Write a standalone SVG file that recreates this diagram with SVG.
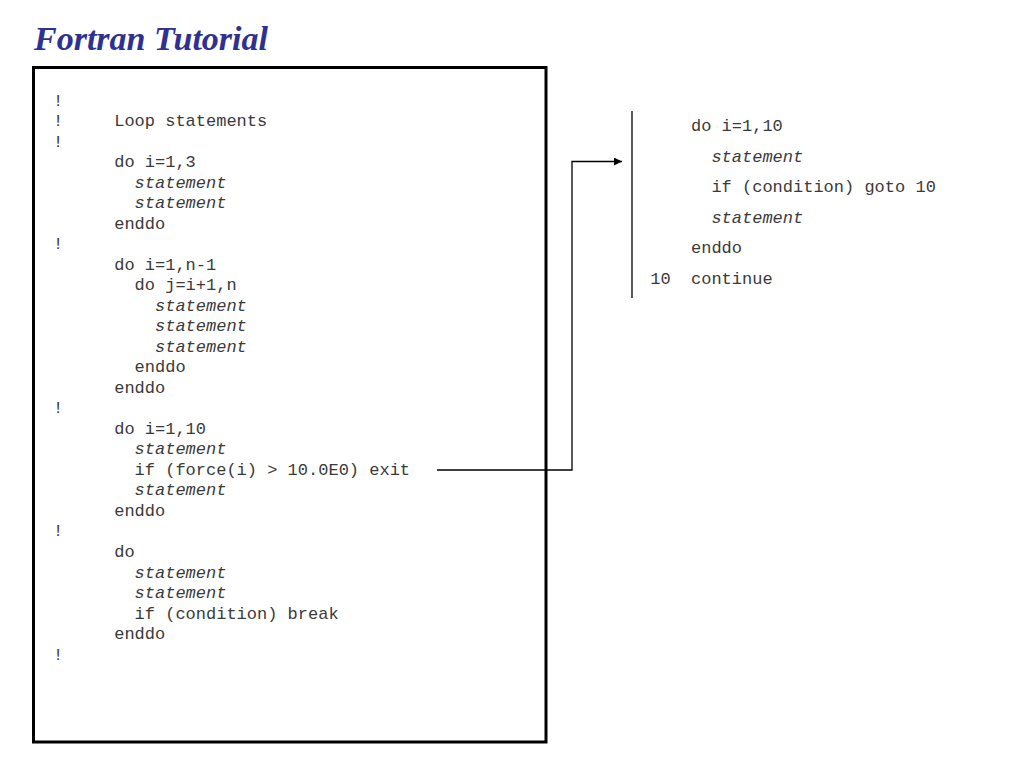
<svg xmlns="http://www.w3.org/2000/svg" width="1024" height="768" viewBox="0 0 1024 768">
<defs>
<style>
.title{font-family:"Liberation Serif","Times New Roman",serif;font-weight:bold;font-style:italic;font-size:34px;fill:#2E3192}
.code{font-family:"Liberation Mono","Courier New",monospace;font-size:17px;fill:#3a3a3a}
.it{font-style:italic}
.line{fill:none;stroke:#000;stroke-width:1.3}
</style>
<marker id="arrow" viewBox="0 0 10 10" refX="10" refY="5" markerWidth="9" markerHeight="8" markerUnits="userSpaceOnUse" orient="auto">
<path d="M0,0 L10,5 L0,10 Z" fill="#000"/>
</marker>
</defs>
<rect width="1024" height="768" fill="#fff"/>
<text class="title" x="34" y="50">Fortran Tutorial</text>

<g id="left-code-box">
<rect x="33.5" y="67.5" width="512.5" height="674.5" fill="none" stroke="#000" stroke-width="3"/>
<g class="code">
<text x="53" y="105.5">!</text>
<text x="53" y="126">!</text><text x="114.2" y="126">Loop statements</text>
<text x="53" y="146.5">!</text>
<text x="114.2" y="167.1">do i=1,3</text>
<text class="it" x="134.6" y="187.6">statement</text>
<text class="it" x="134.6" y="208.1">statement</text>
<text x="114.2" y="228.6">enddo</text>
<text x="53" y="249.1">!</text>
<text x="114.2" y="269.7">do i=1,n-1</text>
<text x="134.6" y="290.2">do j=i+1,n</text>
<text class="it" x="155" y="310.7">statement</text>
<text class="it" x="155" y="331.2">statement</text>
<text class="it" x="155" y="351.7">statement</text>
<text x="134.6" y="372.3">enddo</text>
<text x="114.2" y="392.8">enddo</text>
<text x="53" y="413.3">!</text>
<text x="114.2" y="433.8">do i=1,10</text>
<text class="it" x="134.6" y="454.3">statement</text>
<text x="134.6" y="474.9">if (force(i) &gt; 10.0E0) exit</text>
<text class="it" x="134.6" y="495.4">statement</text>
<text x="114.2" y="515.9">enddo</text>
<text x="53" y="536.4">!</text>
<text x="114.2" y="556.9">do</text>
<text class="it" x="134.6" y="577.5">statement</text>
<text class="it" x="134.6" y="598">statement</text>
<text x="134.6" y="618.5">if (condition) break</text>
<text x="114.2" y="639">enddo</text>
<text x="53" y="659.5">!</text>
</g>
</g>

<g id="right-code-block">
<line x1="632" y1="111" x2="632" y2="298" stroke="#000" stroke-width="1.3"/>
<g class="code">
<text x="691" y="131">do i=1,10</text>
<text class="it" x="711.4" y="161.6">statement</text>
<text x="711.4" y="192.2">if (condition) goto 10</text>
<text class="it" x="711.4" y="222.8">statement</text>
<text x="691" y="253.4">enddo</text>
<text x="650.2" y="284">10</text><text x="691" y="284">continue</text>
</g>
</g>

<g id="connectors">
<path class="line" d="M437,470 H572 V161.5 H622" marker-end="url(#arrow)"/>
</g>
</svg>
